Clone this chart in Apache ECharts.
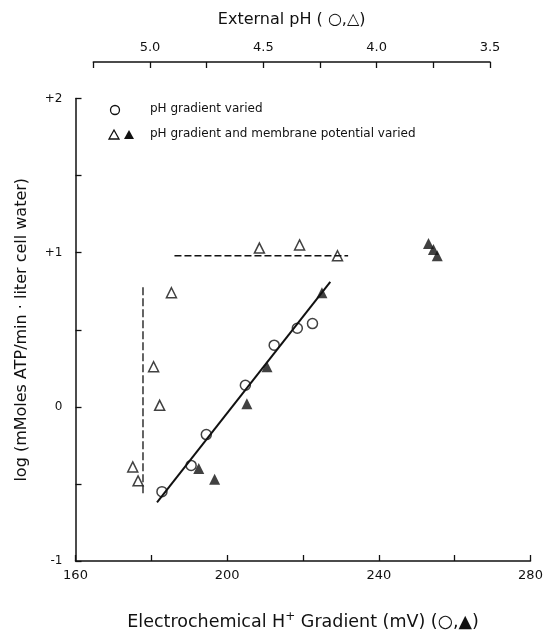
<!DOCTYPE html>
<html>
<head>
<meta charset="utf-8">
<script src="https://cdn.jsdelivr.net/npm/echarts@6/dist/echarts.min.js"></script>
<style>
  html, body { margin: 0; padding: 0; background: #fff; }
  #myChart { width: 548px; height: 632px; }
</style>
</head>
<body>
<div id="myChart"></div>
<script>
// pH gradient varied (open circles)
var circleMv = [182.8, 190.5, 194.5, 204.8, 212.4, 218.5, 222.5];
var circleLog = [-0.55, -0.38, -0.18, 0.14, 0.40, 0.51, 0.54];

// pH gradient and membrane potential varied, open triangles (plotted vs external pH)
var openTriMv = [175.1, 176.5, 180.6, 182.2, 185.3, 208.5, 219.1, 229.1];
var openTriLog = [-0.39, -0.48, 0.26, 0.01, 0.74, 1.03, 1.05, 0.98];

// filled triangles
var filledTriMv = [192.5, 196.7, 205.2, 210.5, 225.0, 253.1, 254.4, 255.4];
var filledTriLog = [-0.40, -0.47, 0.02, 0.26, 0.74, 1.06, 1.02, 0.98];

// fitted line and the two dashed guide lines
var fitMv = [181.5, 227.2];
var fitLog = [-0.62, 0.81];
var hDashMv = [186.1, 231.9];
var hDashLog = [0.98, 0.98];
var vDashMv = [177.8, 177.8];
var vDashLog = [-0.56, 0.79];

// axis labels
var mvLabels = [160, 200, 240, 280];
var phLabels = [5.0, 4.5, 4.0, 3.5];
var logLabels = { '2': '+2', '1': '+1', '0': '0', '-1': '-1' };

function pairs(xs, ys) {
  return xs.map(function (x, i) { return [x, ys[i]]; });
}

var font = 'DejaVu Sans';
var black = '#111';

var myChart = echarts.init(document.getElementById('myChart'));
myChart.setOption({
  animation: false,
  backgroundColor: '#fff',
  grid: [
    { left: 75.5, width: 455, top: 98.5, bottom: 71, outerBoundsMode: 'none' },
    // top pH axis has its own shorter span
    { left: 93.3, width: 396.7, top: 62, bottom: 71, outerBoundsMode: 'none' }
  ],
  xAxis: [
    {
      type: 'value', gridIndex: 0, min: 160, max: 280, interval: 20,
      name: '{n|Electrochemical H}{s|+}{n| Gradient (mV) (○,▲)}',
      nameLocation: 'middle', nameGap: 50,
      nameTextStyle: {
        rich: {
          n: { fontFamily: font, fontSize: 17.5, color: black, lineHeight: 22 },
          s: { fontFamily: font, fontSize: 12, color: black, lineHeight: 12, verticalAlign: 'top' }
        }
      },
      axisLine: { onZero: false, lineStyle: { color: black, width: 1.5 } },
      axisTick: { inside: true, length: 6, lineStyle: { color: black, width: 1.3 } },
      splitLine: { show: false },
      axisLabel: {
        fontFamily: font, fontSize: 13, color: black, margin: 8,
        showMinLabel: true, showMaxLabel: true,
        formatter: function (v) { return mvLabels.indexOf(v) >= 0 ? String(v) : ''; }
      }
    },
    {
      type: 'value', gridIndex: 1, position: 'top', inverse: true,
      min: 3.5, max: 5.25, interval: 0.25,
      name: 'External pH ( ○,△)',
      nameLocation: 'middle', nameGap: 34,
      nameTextStyle: { fontFamily: font, fontSize: 16, color: black },
      axisLine: { onZero: false, lineStyle: { color: black, width: 1.5 } },
      axisTick: { inside: true, length: 6, lineStyle: { color: black, width: 1.3 } },
      splitLine: { show: false },
      axisLabel: {
        fontFamily: font, fontSize: 13, color: black, margin: 8,
        showMinLabel: true, showMaxLabel: true,
        formatter: function (v) {
          for (var i = 0; i < phLabels.length; i++) {
            if (Math.abs(phLabels[i] - v) < 1e-6) return v.toFixed(1);
          }
          return '';
        }
      }
    }
  ],
  yAxis: [
    {
      type: 'value', gridIndex: 0, min: -1, max: 2, interval: 0.5,
      name: 'log (mMoles ATP/min · liter cell water)',
      nameLocation: 'middle', nameGap: 46,
      nameTextStyle: { fontFamily: font, fontSize: 16, color: black },
      axisLine: { show: true, onZero: false, lineStyle: { color: black, width: 1.5 } },
      axisTick: { show: true, inside: true, length: 6, lineStyle: { color: black, width: 1.3 } },
      splitLine: { show: false },
      axisLabel: {
        fontFamily: font, fontSize: 12, color: black, margin: 13,
        showMinLabel: true, showMaxLabel: true,
        formatter: function (v) { return logLabels[String(v)] || ''; }
      }
    },
    { type: 'value', gridIndex: 1, show: false, min: 0, max: 1 }
  ],
  series: [
    {
      name: 'fit', type: 'line', xAxisIndex: 0, yAxisIndex: 0,
      data: pairs(fitMv, fitLog), symbol: 'none',
      lineStyle: { color: black, width: 2 }
    },
    {
      name: 'hdash', type: 'line', xAxisIndex: 0, yAxisIndex: 0,
      data: pairs(hDashMv, hDashLog), symbol: 'none',
      lineStyle: { color: black, width: 1.3, type: [7, 3] }
    },
    {
      name: 'vdash', type: 'line', xAxisIndex: 0, yAxisIndex: 0,
      data: pairs(vDashMv, vDashLog), symbol: 'none',
      lineStyle: { color: black, width: 1.3, type: [8, 3] }
    },
    {
      name: 'pH gradient varied', type: 'scatter', xAxisIndex: 0, yAxisIndex: 0,
      data: pairs(circleMv, circleLog), symbol: 'circle', symbolSize: 10,
      itemStyle: { color: '#fff', borderColor: black, borderWidth: 1.5 }
    },
    {
      name: 'open triangles', type: 'scatter', xAxisIndex: 0, yAxisIndex: 0,
      data: pairs(openTriMv, openTriLog), symbol: 'triangle', symbolSize: 10,
      itemStyle: { color: '#fff', borderColor: black, borderWidth: 1.5 }
    },
    {
      name: 'filled triangles', type: 'scatter', xAxisIndex: 0, yAxisIndex: 0,
      data: pairs(filledTriMv, filledTriLog), symbol: 'triangle', symbolSize: 11,
      itemStyle: { color: black }
    }
  ],
  // legend drawn by hand, the paper shows two triangles on one row
  graphic: [
    { type: 'circle', shape: { cx: 115, cy: 110, r: 4.5 }, style: { fill: '#fff', stroke: black, lineWidth: 1.3 } },
    { type: 'text', left: 150, top: 103, style: { text: 'pH gradient varied', font: '12px "DejaVu Sans"', fill: black } },
    { type: 'polygon', shape: { points: [[114, 130], [109, 139], [119, 139]] }, style: { fill: '#fff', stroke: black, lineWidth: 1.3 } },
    { type: 'polygon', shape: { points: [[129, 130], [124, 139], [134, 139]] }, style: { fill: black } },
    { type: 'text', left: 150, top: 128, style: { text: 'pH gradient and membrane potential varied', font: '12px "DejaVu Sans"', fill: black } }
  ]
});
</script>
</body>
</html>
